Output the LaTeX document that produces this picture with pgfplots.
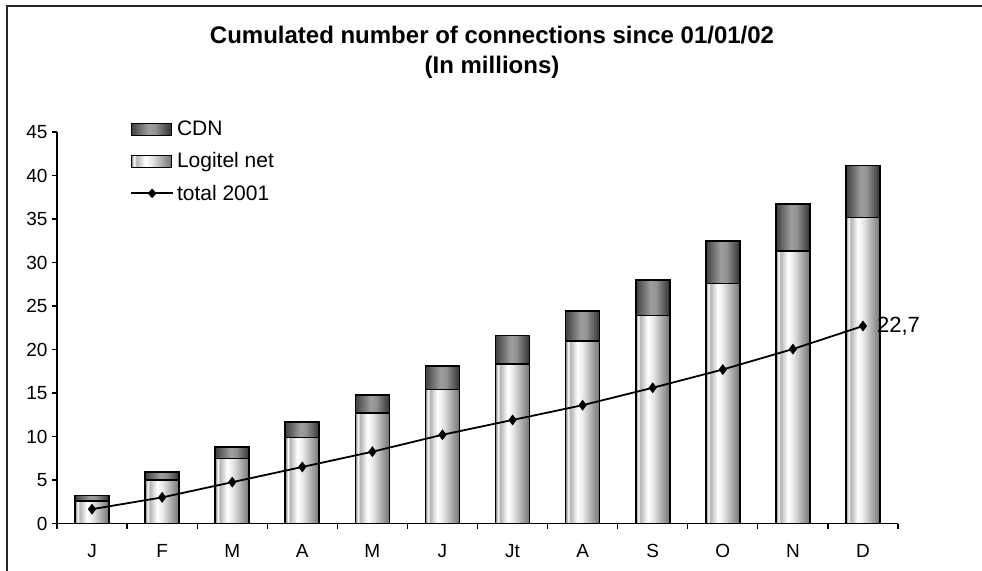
\documentclass[border=0pt]{standalone}
\usepackage{pgfplots}
\pgfplotsset{compat=1.18}
\usepackage{pgfplotstable}
\usepackage{fontspec}
\setmainfont{Liberation Sans}

\pgfdeclarehorizontalshading{logitel}{100bp}{color(0bp)=(black!50); color(25bp)=(black!50); color(29bp)=(white); color(31.5bp)=(black!30); color(42.5bp)=(white); color(50bp)=(black!8); color(75bp)=(black!55); color(100bp)=(black!55)}
\pgfdeclarehorizontalshading{cdn}{100bp}{color(0bp)=(black!75); color(25bp)=(black!75); color(47bp)=(black!38); color(55bp)=(black!42); color(75bp)=(black!80); color(100bp)=(black!80)}

\pgfplotstableread{
m logitel cdn total
0 2.6 0.6 1.65
1 5.0 0.95 3.0
2 7.45 1.35 4.75
3 9.9 1.8 6.5
4 12.7 2.1 8.25
5 15.4 2.7 10.2
6 18.3 3.3 11.9
7 21.0 3.45 13.6
8 23.9 4.1 15.6
9 27.6 4.85 17.7
10 31.35 5.35 20.05
11 35.15 6.0 22.7
}\data

\begin{document}
\begin{tikzpicture}
\path[use as bounding box] (0,0) rectangle (982bp,-571bp);
\draw[line width=2bp, black!85] (7bp,-580bp) -- (7bp,-6bp) -- (990bp,-6bp);
\node[font=\bfseries\fontsize{24bp}{28bp}\selectfont] at (492bp,-35bp) {Cumulated number of connections since 01/01/02};
\node[font=\bfseries\fontsize{24bp}{28bp}\selectfont] at (492bp,-67bp) {(In millions)};
\begin{axis}[
  at={(57bp,-523.5bp)}, anchor=south west,
  scale only axis, width=841bp, height=391.5bp,
  xmin=-0.5, xmax=11.5, ymin=0, ymax=45,
  enlargelimits=false, clip=false,
  axis x line=bottom, axis y line=left,
  axis line style={-, line width=1.2bp, black},
  xtick={-0.5,0.5,...,11.5},
  x tick label as interval,
  xticklabels={J,F,M,A,M,J,Jt,A,S,O,N,D},
  ytick={0,5,...,45},
  tick align=outside, major tick length=5bp,
  tick style={black, line width=1.2bp},
  ticklabel style={font=\fontsize{19bp}{22bp}\selectfont},
  /pgf/number format/assume math mode=true,
  yticklabel style={xshift=-1bp},
  xticklabel style={yshift=-12bp},
  legend style={draw=none, fill=none, at={(0.0868,1.036)}, anchor=north west,
    inner sep=0pt, font=\fontsize{21bp}{24bp}\selectfont, row sep=9.5bp,
    nodes={inner sep=3bp}},
  legend cell align=left,
]
\addlegendimage{legend image code/.code={\draw[shade, shading=cdn, draw=black, line width=1.2bp] (0bp,-6bp) rectangle (40bp,6bp);}}
\addlegendentry{CDN}
\addlegendimage{legend image code/.code={\draw[shade, shading=logitel, draw=black, line width=1.2bp] (0bp,-6bp) rectangle (40bp,6bp);}}
\addlegendentry{Logitel net}
\addlegendimage{legend image code/.code={\draw[black, line width=1.8bp] (0bp,0bp) -- (42bp,0bp); \fill[black] (21bp,4.5bp) -- (25bp,0bp) -- (21bp,-4.5bp) -- (17bp,0bp) -- cycle;}}
\addlegendentry{total 2001}

\pgfplotsinvokeforeach{0,...,11}{
  \addplot[ybar, bar width=34bp, bar shift=0pt, draw=black, line width=1.6bp, shade, shading=cdn, restrict x to domain=#1:#1]
    table[x=m, y expr=\thisrow{logitel}+\thisrow{cdn}] {\data};
  \addplot[ybar, bar width=34bp, bar shift=0pt, draw=black, line width=1.6bp, shade, shading=logitel, restrict x to domain=#1:#1]
    table[x=m, y=logitel] {\data};
}
\addplot[sharp plot, black, line width=1.8bp, mark=diamond*, mark size=4bp] table[x=m, y=total] {\data};
\node[anchor=west, inner sep=0pt, xshift=14bp, font=\fontsize{22bp}{26bp}\selectfont] at (axis cs:11,22.7) {22,7};
\end{axis}
\end{tikzpicture}
\end{document}
